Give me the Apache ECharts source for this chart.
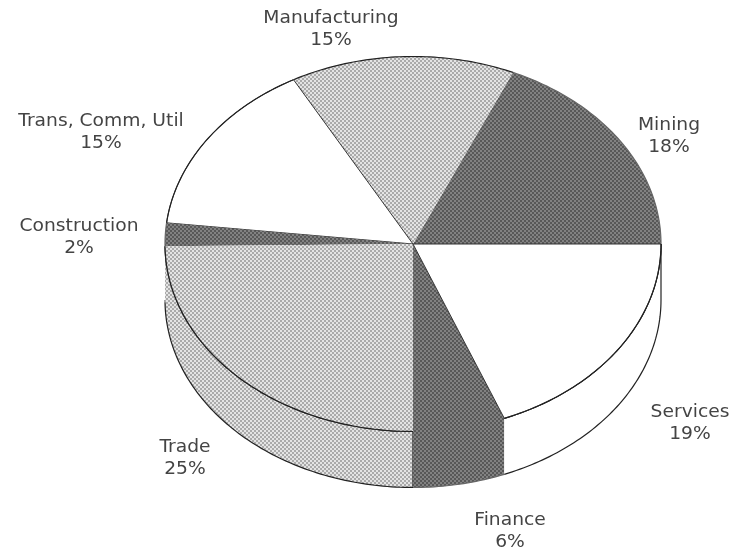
<!DOCTYPE html>
<html>
<head>
<meta charset="utf-8">
<title>Sectors</title>
<script src="https://cdn.jsdelivr.net/npm/echarts@6/dist/echarts.min.js"></script>
<style>
  html, body { margin: 0; padding: 0; background: #fff; }
  #chart { width: 739px; height: 554px; filter: blur(0.6px); }
</style>
</head>
<body>
<div id="chart"></div>
<script>
var sectors = ['Mining', 'Manufacturing', 'Trans, Comm, Util', 'Construction', 'Trade', 'Finance', 'Services'];
// slice sizes as measured on the picture, the printed labels are these rounded
var shares = [18.4, 14.6, 15.2, 2.0, 24.8, 6.0, 19.0];

// label centres, picked by eye
var labelAt = {
  'Mining': [669, 137],
  'Manufacturing': [331, 30],
  'Trans, Comm, Util': [101, 133],
  'Construction': [79, 238],
  'Trade': [185, 459],
  'Finance': [510, 532],
  'Services': [690, 424]
};

// dotted screens like the printed original
function screen(bg, dot) {
  var c = document.createElement('canvas');
  c.width = 4; c.height = 4;
  var g = c.getContext('2d');
  g.fillStyle = bg;
  g.fillRect(0, 0, 4, 4);
  g.fillStyle = dot;
  g.fillRect(0, 0, 2, 2);
  g.fillRect(2, 2, 2, 2);
  return { image: c, repeat: 'repeat' };
}
var light = screen('#e4e4e4', '#aaaaaa');
var dark = screen('#828282', '#585858');
var fills = [dark, light, '#fff', dark, light, dark, '#fff'];

var cx = 413, cy = 244, rx = 248, ry = 187.5, depth = 56;
var total = shares.reduce(function (a, b) { return a + b; }, 0);

function arc(a0, a1, dy) {
  var pts = [], n = Math.max(2, Math.ceil(Math.abs(a1 - a0)));
  for (var i = 0; i <= n; i++) {
    var a = (a0 + (a1 - a0) * i / n) * Math.PI / 180;
    pts.push([cx + rx * Math.cos(a), cy - ry * Math.sin(a) + dy]);
  }
  return pts;
}

function line(points, color) {
  return { type: 'polyline', shape: { points: points }, style: { fill: null, stroke: color, lineWidth: 1.2 } };
}

function renderItem(params, api) {
  var i = params.dataIndex;
  var before = 0;
  for (var k = 0; k < i; k++) before += shares[k];
  var a0 = before / total * 360;
  var a1 = a0 + api.value(0) / total * 360;
  var fill = fills[i];
  var isDark = fill === dark;
  var edge = isDark ? '#666' : '#222';
  var children = [];

  // side wall, only the front half of the pie shows one
  var w0 = Math.max(a0, 180), w1 = a1;
  if (w1 > w0) {
    var top = arc(w0, w1, 0), bottom = arc(w1, w0, depth);
    // dark wall runs a little under the face so no seam shows
    var wallTop = isDark ? arc(w0, w1, -3) : top;
    children.push({ type: 'polygon', shape: { points: wallTop.concat(bottom) }, style: { fill: fill, stroke: null } });
    children.push(line(bottom, edge));
    if (!isDark) {
      children.push(line(top, edge));
      children.push(line([top[top.length - 1], bottom[0]], edge));
    }
  }

  // top face
  children.push({
    type: 'polygon',
    shape: { points: [[cx, cy]].concat(arc(a0, a1, 0)) },
    style: { fill: fill, stroke: fill === '#fff' ? '#333' : null, lineWidth: 1 }
  });
  // the dark front slice has no outline between face and wall
  if (!(isDark && a0 >= 180)) {
    children.push(line(arc(a0, a1, 0), edge));
  }

  var at = labelAt[sectors[i]];
  children.push({
    type: 'text',
    x: at[0],
    y: at[1],
    scaleX: 1.1,
    style: {
      text: sectors[i] + '\n' + Math.round(api.value(0)) + '%',
      fill: '#444',
      font: '17px "DejaVu Sans"',
      lineHeight: 22,
      textAlign: 'center',
      textVerticalAlign: 'middle'
    }
  });
  return { type: 'group', children: children };
}

var chart = echarts.init(document.getElementById('chart'));
chart.setOption({
  animation: false,
  backgroundColor: '#fff',
  series: [{
    type: 'custom',
    coordinateSystem: 'none',
    silent: true,
    renderItem: renderItem,
    data: shares.map(function (v) { return [v]; })
  }]
});
</script>
</body>
</html>
